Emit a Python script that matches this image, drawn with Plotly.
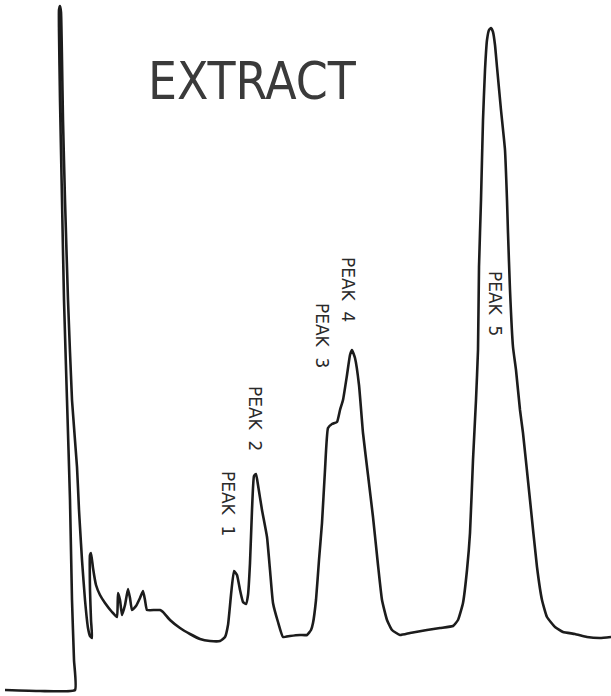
import plotly.graph_objects as go

# Chromatogram trace: retention position and detector response (chart units)
retention = [5, 40, 75, 74, 72, 70, 67, 64, 62, 60, 59, 59, 60, 61, 62, 63, 65, 68, 72, 77, 79, 80, 82, 85, 88, 90, 92,
             91, 90, 90, 91, 93, 96, 100, 105, 112, 117, 118, 120, 122, 125, 128, 130, 132, 136, 140, 143, 145, 147,
             155, 160, 163, 170, 180, 190, 200, 210, 220, 225, 228, 231, 234, 237, 240, 243, 246, 248, 250, 252, 254,
             256, 258, 262, 267, 270, 273, 278, 283, 290, 300, 307, 311, 313, 316, 319, 322, 325, 328, 332, 337, 340,
             343, 347, 350, 352, 355, 359, 363, 368, 373, 378, 382, 387, 392, 400, 410, 427, 440, 453, 458, 463, 467,
             470, 473, 476, 478, 479, 481, 483, 485, 487, 489, 491, 493, 495, 497, 501, 505, 507, 508, 510, 513, 516,
             520, 523, 530, 537, 542, 547, 555, 563, 575, 587, 600, 611]
trace_px = [690, 691, 690, 660, 600, 500, 400, 300, 200, 100, 30, 10, 6, 12, 60, 120, 200, 300, 400, 467, 510, 527, 560,
            600, 628, 636, 638, 620, 590, 555, 553, 568, 585, 595, 603, 612, 617, 593, 600, 615, 605, 589, 598, 610,
            606, 598, 591, 600, 610, 610, 610, 612, 620, 628, 634, 639, 641, 641, 637, 625, 595, 571, 575, 590, 602,
            604, 595, 563, 510, 476, 474, 485, 510, 537, 570, 603, 622, 637, 636, 635, 635, 630, 623, 600, 560, 523,
            470, 428, 424, 422, 410, 400, 375, 355, 350, 358, 385, 433, 475, 517, 565, 600, 620, 630, 635, 633, 630,
            628, 626, 620, 603, 570, 533, 460, 400, 350, 267, 200, 120, 70, 40, 30, 28, 32, 45, 67, 110, 150, 200,
            233, 290, 347, 370, 410, 433, 500, 567, 600, 617, 627, 632, 634, 637, 638, 637]
response = [696 - v for v in trace_px]

title_text = "EXTRACT"
peak_labels = ["PEAK  1", "PEAK  2", "PEAK  3", "PEAK  4", "PEAK  5"]
peak_label_x = [228, 255, 322, 348, 495]
peak_label_y = [696 - 503, 696 - 418, 696 - 335, 696 - 289, 696 - 303]

fig = go.Figure()
fig.add_trace(go.Scatter(
    x=retention, y=response, mode="lines",
    line=dict(color="#1c1c1c", width=2.6, shape="spline", smoothing=0.4),
    hoverinfo="skip", showlegend=False,
))

fig.add_annotation(
    x=252, y=696 - 81, xref="x", yref="y", text=title_text, showarrow=False,
    font=dict(family="Liberation Sans Narrow, DejaVu Sans Condensed, sans-serif", size=51, color="#3a3a3a"),
)
for lab, lx, ly in zip(peak_labels, peak_label_x, peak_label_y):
    fig.add_annotation(
        x=lx, y=ly, xref="x", yref="y", text=lab, showarrow=False, textangle=90,
        font=dict(family="DejaVu Sans", size=17, color="#2a2a2a"),
    )

fig.update_layout(
    width=611, height=696, margin=dict(l=0, r=0, t=0, b=0),
    paper_bgcolor="white", plot_bgcolor="white",
    xaxis=dict(range=[0, 611], visible=False, fixedrange=True),
    yaxis=dict(range=[0, 696], visible=False, fixedrange=True),
)
fig.write_html("out.html")
